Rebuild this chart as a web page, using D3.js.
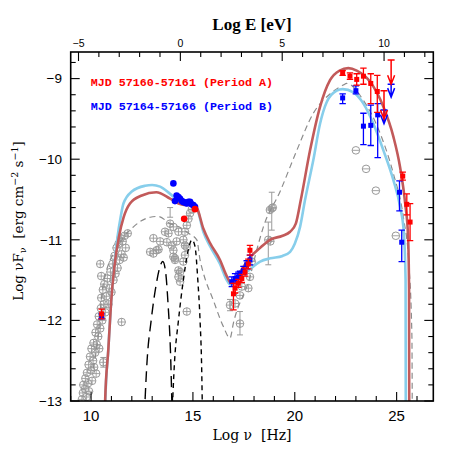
<!DOCTYPE html>
<html><head><meta charset="utf-8">
<script src="https://cdn.jsdelivr.net/npm/d3@7"></script>
<style>html,body{margin:0;padding:0;background:#fff}</style>
</head><body>
<svg id="c" width="457" height="457"></svg>
<script>
// ---- axis / tick data ----
const xDomain = [9, 26.8];
const yDomain = [-13, -8.67];
const eOffset = 14.383; // log(E/eV) = log(nu/Hz) - 14.383
const xMajor = [10, 15, 20, 25];
const yMajor = [-13, -12, -11, -10, -9];
const eMajor = [-5, 0, 5, 10];

// ---- model curves [log nu, log nuFnu] ----
const modelA = [[10.66,-13.4],[10.69,-13],[10.85,-12.35],[10.98,-11.79],[11.14,-11.34],[11.37,-10.96],[11.6,-10.72],[11.91,-10.55],[12.49,-10.45],[13.2,-10.41],[13.88,-10.49],[14.29,-10.55],[14.7,-10.57],[14.94,-10.55],[15.19,-10.6],[15.51,-10.86],[15.84,-11.04],[16.33,-11.25],[16.66,-11.45],[16.85,-11.53],[17.1,-11.48],[17.31,-11.4],[17.8,-11.22],[18.3,-11.1],[18.78,-11.0],[19.4,-10.95],[19.77,-10.9],[20.05,-10.8],[20.3,-10.5],[20.75,-9.89],[21.24,-9.35],[21.73,-9.02],[22.2,-8.9],[22.63,-8.87],[23.04,-8.9],[23.7,-9.04],[24.35,-9.35],[24.84,-9.72],[25.17,-10.1],[25.42,-10.55],[25.56,-10.95],[25.61,-11.6],[25.62,-13.4]];
const modelB = [[10.67,-13.4],[10.7,-13],[10.85,-12.35],[10.98,-11.79],[11.13,-11.34],[11.3,-10.96],[11.45,-10.72],[11.59,-10.55],[12.0,-10.4],[12.65,-10.33],[13.0,-10.32],[13.39,-10.34],[13.88,-10.43],[14.37,-10.53],[14.86,-10.56],[15.19,-10.61],[15.51,-10.9],[15.84,-11.08],[16.33,-11.3],[16.66,-11.5],[16.85,-11.56],[17.1,-11.5],[17.64,-11.4],[18.3,-11.27],[18.8,-11.23],[19.4,-11.2],[19.77,-11.15],[20.0,-11.05],[20.26,-10.84],[20.5,-10.51],[20.91,-10.01],[21.24,-9.56],[21.57,-9.29],[22.06,-9.15],[22.35,-9.13],[22.88,-9.17],[23.37,-9.31],[23.86,-9.56],[24.35,-9.89],[24.84,-10.26],[25.17,-10.59],[25.35,-10.9],[25.44,-11.5],[25.45,-13.4]];
const modelArchive = [[10.1,-12.6],[10.3,-12.3],[10.6,-11.55],[11.34,-11.07],[12.08,-10.84],[12.9,-10.72],[13.3,-10.71],[13.88,-10.8],[14.4,-10.85],[14.78,-10.92],[15.19,-11.0],[15.35,-11.25],[15.51,-11.41],[16.0,-11.75],[16.5,-12.08],[16.82,-12.22],[16.99,-12.03],[17.8,-11.46],[18.13,-11.13],[18.46,-10.84],[19.28,-10.4],[20.1,-9.89],[20.91,-9.43],[21.73,-9.19],[22.38,-9.08],[22.55,-9.06],[23.37,-9.27],[24.19,-9.68],[24.84,-10.18],[25.33,-10.72],[25.6,-11.3],[25.75,-12.2],[25.77,-13.4]];
const torus = [[12.58,-13.4],[12.75,-12.5],[12.95,-12.0],[13.2,-11.55],[13.4,-11.32],[13.52,-11.27],[13.65,-11.38],[13.78,-11.8],[13.9,-12.4],[14.0,-13.4]];
const disk = [[13.94,-13.4],[14.1,-12.5],[14.29,-12.0],[14.53,-11.5],[14.75,-11.15],[14.95,-11.0],[15.1,-11.08],[15.24,-11.5],[15.35,-12.0],[15.43,-12.6],[15.48,-13.4]];

// ---- archival data (grey) ----
const grayRadio = [[9.5,-13.05],[9.55,-12.98],[9.6,-12.9],[9.62,-12.8],[9.7,-12.85],[9.72,-12.72],[9.78,-12.95],[9.8,-12.65],[9.85,-12.78],[9.88,-12.55],[9.9,-12.88],[9.95,-12.45],[10.0,-12.62],[10.02,-12.35],[10.05,-12.75],[10.1,-12.5],[10.12,-12.28],[10.15,-12.58],[10.2,-12.4],[10.22,-12.15],[10.25,-12.66],[10.28,-12.3],[10.3,-12.05],[10.35,-12.2],[10.38,-11.95],[10.4,-12.35],[10.45,-12.1],[10.48,-11.85],[10.5,-11.72],[10.45,-11.3],[10.5,-11.45],[10.55,-12.0],[10.58,-11.62],[10.62,-11.8],[10.65,-11.55],[10.7,-11.9],[10.75,-11.7],[10.8,-11.48],[10.85,-11.8],[10.9,-11.6],[10.95,-11.4],[11.0,-11.65],[11.05,-11.3],[11.1,-11.5],[11.15,-11.2],[11.2,-11.42],[11.25,-11.1],[11.3,-11.35],[11.35,-11.05],[11.4,-11.25],[11.45,-10.98],[11.5,-11.18],[11.55,-11.02],[11.6,-11.22],[11.65,-10.95],[11.7,-11.1],[11.8,-10.92]];
const grayOpt = [[12.9,-11.15],[13.06,-11.17],[13.22,-11.13],[13.31,-11.12],[13.06,-10.98],[13.39,-11.02],[13.63,-10.9],[13.72,-11.03],[13.8,-10.92],[13.88,-10.8],[13.96,-11.07],[14.04,-10.84],[14.04,-11.13],[14.12,-11.23],[14.2,-11.02],[14.29,-10.9],[14.29,-11.38],[14.29,-11.46],[14.37,-11.52],[14.37,-11.4],[14.53,-11.0],[14.53,-11.27],[14.61,-10.9],[14.61,-11.07],[14.61,-11.19],[14.7,-10.82],[14.7,-11.09],[14.78,-10.74],[14.86,-10.67],[14.7,-11.89],[14.04,-11.21],[14.12,-11.25],[14.95,-10.62],[11.5,-12.02],[10.6,-12.52]];
const grayX = [[16.82,-11.81],[17.07,-11.79],[17.31,-11.69],[17.31,-12.04],[17.72,-11.6],[17.8,-11.46],[17.89,-11.27],[17.4,-11.58],[18.7,-11.0],[18.8,-11.02],[18.78,-10.63],[18.87,-10.61],[18.92,-10.6]];
const grayErr = [[13.88,-10.72,-10.72,-10.6],[16.82,-11.81,-11.88,-11.74],[17.31,-12.04,-12.18,-11.89],[18.7,-11.0,-11.31,-10.78],[18.87,-10.61,-10.88,-10.41],[10.6,-12.52,-12.58,-12.46]];
const grayGamma = [[23.0,-9.89],[23.5,-10.12],[23.98,-10.39],[24.96,-10.95]];

// ---- Period A (red) [nu, value, low, high] ----
const redSq = [[10.52,-11.92,-11.98,-11.86],[16.99,-11.67,-11.87,-11.54],[17.07,-11.6,-11.66,-11.54],[17.23,-11.54,-11.59,-11.49],[17.4,-11.48,-11.53,-11.43],[17.56,-11.4,-11.45,-11.35],[17.72,-11.3,-11.36,-11.24],[17.8,-11.13,-11.19,-11.07],[22.35,-8.93,-8.96,-8.9],[22.71,-8.97,-9.01,-8.93],[23.04,-9.01,-9.08,-8.94],[23.37,-8.97,-9.07,-8.87],[23.73,-9.06,-9.31,-8.94],[24.05,-9.16,-9.42,-8.96],[25.3,-10.21,-10.26,-10.16],[25.5,-10.56,-10.69,-10.43],[25.66,-10.78,-11.01,-10.55]];
const redDot = [[14.57,-10.74],[15.1,-10.62]];
const redUL = [[24.38,-9.15,-9.5],[24.73,-8.77,-9.07]];

// ---- Period B (blue) ----
const blueSq = [[10.52,-11.95,-11.98,-11.92],[16.91,-11.52,-11.58,-11.46],[17.07,-11.48,-11.54,-11.42],[17.23,-11.46,-11.52,-11.4],[17.31,-11.44,-11.49,-11.39],[17.48,-11.38,-11.43,-11.33],[17.64,-11.31,-11.36,-11.26],[17.8,-11.25,-11.31,-11.19],[22.35,-9.24,-9.31,-9.19],[23.0,-9.15,-9.19,-9.09],[23.37,-9.59,-9.82,-9.43],[23.73,-9.58,-9.83,-9.33],[24.07,-9.45,-9.98,-9.31],[25.14,-10.41,-10.64,-10.27],[25.25,-11.03,-11.27,-10.88]];
const blueDot = [[14.04,-10.3],[14.2,-10.45],[14.29,-10.47],[14.37,-10.49],[14.12,-10.52],[14.45,-10.52],[14.53,-10.53],[14.62,-10.54],[14.7,-10.55],[14.78,-10.53],[14.86,-10.53],[14.94,-10.56],[15.02,-10.57],[15.1,-10.59]];
const blueUL = [[24.38,-9.39,-9.56],[24.73,-9.07,-9.23]];

const legendA = "MJD 57160-57161 (Period A)";
const legendB = "MJD 57164-57166 (Period B)";

// ---- drawing ----
const L = 70.7, R = 433.3, T = 52, B = 401;
const svg = d3.select("#c");
const x = d3.scaleLinear().domain(xDomain).range([L, R]);
const y = d3.scaleLinear().domain(yDomain).range([B, T]);
const xE = d3.scaleLinear().domain([xDomain[0]-eOffset, xDomain[1]-eOffset]).range([L, R]);

svg.append("defs").append("clipPath").attr("id","clip")
  .append("rect").attr("x",L).attr("y",T).attr("width",R-L).attr("height",B-T);
const g = svg.append("g").attr("clip-path","url(#clip)");

const GRAY = "#9a9a9a", RED = "#ff0000", BLUE = "#0000ff";

function errBar(sel, data, color, cap, sw) {
  sel.selectAll(null).data(data).enter().append("path")
    .attr("d", d => {
      const xx = x(d[0]), y1 = y(d[2]), y2 = y(d[3]);
      return `M${xx},${y1}V${y2}M${xx-cap},${y1}H${xx+cap}M${xx-cap},${y2}H${xx+cap}`;
    })
    .attr("stroke", color).attr("stroke-width", sw).attr("fill","none");
}
function circSym(sel, data, vert) {
  const gg = sel.selectAll(null).data(data).enter().append("g")
    .attr("transform", d => `translate(${x(d[0])},${y(d[1])})`);
  gg.append("circle").attr("r",3.8).attr("fill","none").attr("stroke",GRAY).attr("stroke-width",1);
  gg.append("path").attr("d", vert ? "M-3.8,0H3.8M0,-3.8V3.8" : "M-3.8,0H3.8")
    .attr("stroke",GRAY).attr("stroke-width",0.9);
}

// archival points
errBar(g, grayErr, GRAY, 3, 1);
circSym(g, grayRadio, true);
circSym(g, grayOpt, true);
circSym(g, grayX, true);
circSym(g, grayGamma, false);

const line = d3.line().x(d => x(d[0])).y(d => y(d[1])).curve(d3.curveMonotoneX);
g.append("path").attr("d", line(modelArchive)).attr("fill","none")
  .attr("stroke","#8c8c8c").attr("stroke-width",1.2).attr("stroke-dasharray","6,4");
g.append("path").attr("d", line(torus)).attr("fill","none")
  .attr("stroke","#000").attr("stroke-width",1.4).attr("stroke-dasharray","11,6");
g.append("path").attr("d", line(disk)).attr("fill","none")
  .attr("stroke","#000").attr("stroke-width",1.4).attr("stroke-dasharray","5,4");
g.append("path").attr("d", line(modelB)).attr("fill","none")
  .attr("stroke","#87ceeb").attr("stroke-width",2.6);
g.append("path").attr("d", line(modelA)).attr("fill","none")
  .attr("stroke","#c25a5a").attr("stroke-width",2.6);

function squares(sel, data, color, s) {
  errBar(sel, data, color, 3.2, 1.3);
  sel.selectAll(null).data(data).enter().append("rect")
    .attr("x", d => x(d[0]) - s/2).attr("y", d => y(d[1]) - s/2)
    .attr("width", s).attr("height", s).attr("fill", color);
}
function dots(sel, data, color, r) {
  sel.selectAll(null).data(data).enter().append("circle")
    .attr("cx", d => x(d[0])).attr("cy", d => y(d[1])).attr("r", r).attr("fill", color);
}
function upper(sel, data, color) {
  sel.selectAll(null).data(data).enter().append("path")
    .attr("d", d => {
      const xx = x(d[0]), y1 = y(d[1]), y2 = y(d[2]);
      return `M${xx-3.5},${y1}H${xx+3.5}M${xx},${y1}V${y2}M${xx-3.5},${y2-9}L${xx},${y2}L${xx+3.5},${y2-9}`;
    })
    .attr("stroke", color).attr("stroke-width", 1.5).attr("fill","none");
}
squares(g, blueSq, BLUE, 5);
dots(g, blueDot, BLUE, 3.3);
upper(g, blueUL, BLUE);
squares(g, redSq, RED, 5);
dots(g, redDot, RED, 3.3);
upper(g, redUL, RED);

// frame
svg.append("rect").attr("x",L).attr("y",T).attr("width",R-L).attr("height",B-T)
  .attr("fill","none").attr("stroke","#000").attr("stroke-width",1.6);

// ticks
const tk = svg.append("g").attr("stroke","#000").attr("stroke-width",1.1);
d3.range(9, 27).forEach(v => {
  const len = xMajor.includes(v) ? 9 : 5;
  tk.append("line").attr("x1",x(v)).attr("x2",x(v)).attr("y1",B).attr("y2",B-len);
});
d3.range(-5, 13).forEach(v => {
  const len = eMajor.includes(v) ? 9 : 5;
  tk.append("line").attr("x1",xE(v)).attr("x2",xE(v)).attr("y1",T).attr("y2",T+len);
});
d3.range(0, 22).map(i => -13 + i*0.2).filter(v => v <= -8.7).forEach(v => {
  const maj = yMajor.some(m => Math.abs(m - v) < 1e-6);
  const len = maj ? 9 : 5;
  tk.append("line").attr("x1",L).attr("x2",L+len).attr("y1",y(v)).attr("y2",y(v));
  tk.append("line").attr("x1",R).attr("x2",R-len).attr("y1",y(v)).attr("y2",y(v));
});

// tick labels
const lab = svg.append("g").attr("font-family","'Liberation Sans', Arial, sans-serif").attr("fill","#000");
xMajor.forEach(v => lab.append("text").attr("x",x(v)).attr("y",420.5).attr("text-anchor","middle")
  .attr("font-size",15).text(v));
eMajor.forEach(v => lab.append("text").attr("x",xE(v)).attr("y",47).attr("text-anchor","middle")
  .attr("font-size",10.5).text(String(v).replace("-","\u2212")));
yMajor.forEach(v => lab.append("text").attr("x",62).attr("y",y(v)+4.8).attr("text-anchor","end")
  .attr("font-size",13.5).text(String(v).replace("-","\u2212")));

// axis titles
svg.append("text").attr("x",252).attr("y",30).attr("text-anchor","middle")
  .attr("font-family","'Liberation Serif', serif").attr("font-weight","bold").attr("font-size",17)
  .text("Log E [eV]");
svg.append("text").attr("x",252).attr("y",440).attr("text-anchor","middle")
  .attr("font-family","'DejaVu Serif', serif").attr("font-size",14)
  .text("Log\u00a0ν\u00a0\u00a0[Hz]");
const yt = svg.append("text").attr("transform","translate(23,221) rotate(-90)").attr("text-anchor","middle")
  .attr("font-family","'DejaVu Serif', serif").attr("font-size",13.5);
yt.append("tspan").text("Log\u00a0νF");
yt.append("tspan").attr("font-size",9.5).attr("dy",3).text("ν");
yt.append("tspan").attr("dy",-3).text("\u00a0\u00a0[erg cm");
yt.append("tspan").attr("font-size",9.5).attr("dy",-5).text("−2");
yt.append("tspan").attr("dy",5).text(" s");
yt.append("tspan").attr("font-size",9.5).attr("dy",-5).text("−1");
yt.append("tspan").attr("dy",5).text("]");

// legend
svg.append("text").attr("x",90.7).attr("y",86).attr("fill",RED)
  .attr("font-family","'Liberation Mono', monospace").attr("font-weight","bold").attr("font-size",11.7)
  .text(legendA);
svg.append("text").attr("x",90.7).attr("y",109.5).attr("fill",BLUE)
  .attr("font-family","'Liberation Mono', monospace").attr("font-weight","bold").attr("font-size",11.7)
  .text(legendB);
</script>
</body></html>
